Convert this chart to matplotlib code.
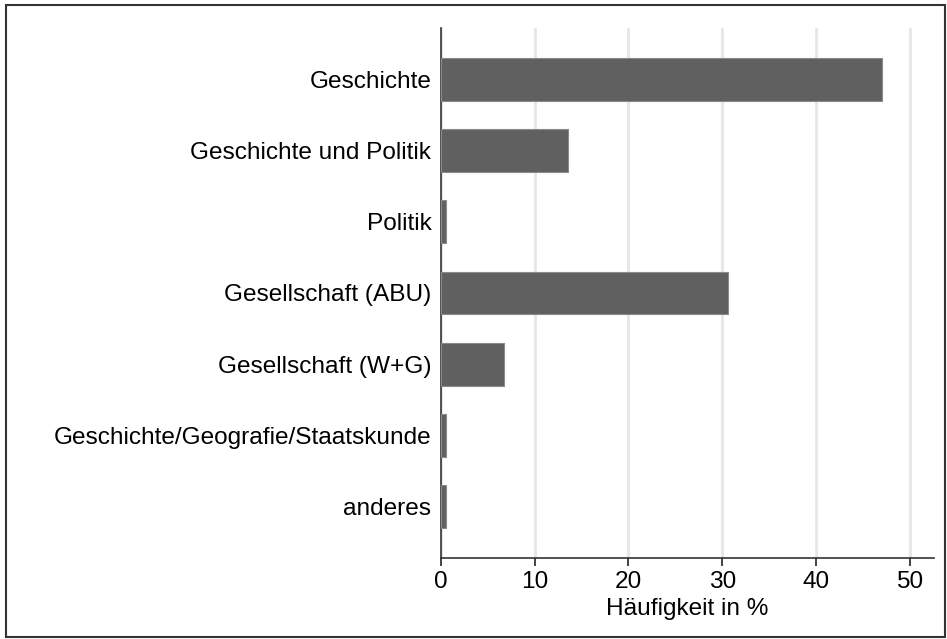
import matplotlib
matplotlib.use("Agg")
import matplotlib.pyplot as plt
from matplotlib.patches import Rectangle

# data
categories = [
    "Geschichte",
    "Geschichte und Politik",
    "Politik",
    "Gesellschaft (ABU)",
    "Gesellschaft (W+G)",
    "Geschichte/Geografie/Staatskunde",
    "anderes",
]
values = [47.0, 13.5, 0.5, 30.6, 6.7, 0.5, 0.5]
xticks = [0, 10, 20, 30, 40, 50]

plt.rcParams["font.family"] = ["Liberation Sans", "DejaVu Sans"]
FS = 17.6

fig = plt.figure(figsize=(9.47, 6.39), dpi=100)
ax = fig.add_axes([441 / 947, 1 - 558 / 639, (934 - 441) / 947, (558 - 28) / 639])

pos = list(range(len(categories)))
ax.barh(pos, values, height=0.6, color="#606060", edgecolor="#8a8a8a",
        linewidth=0.8, zorder=3)

ax.set_yticks(pos)
ax.set_yticklabels(categories, fontsize=FS)
ax.set_ylim(len(categories) - 1 + 0.72, -0.72)
ax.set_xlim(0, 52.6)
ax.set_xticks(xticks)
ax.tick_params(axis="x", labelsize=FS, length=6, width=1.2, color="#222222", pad=3)
ax.tick_params(axis="y", length=0, pad=7)
ax.set_xlabel("Häufigkeit in %", fontsize=FS, labelpad=4)

ax.grid(axis="x", color="#e6e6e6", linewidth=2, zorder=0)
for s in ["top", "right"]:
    ax.spines[s].set_visible(False)
for s in ["left", "bottom"]:
    ax.spines[s].set_color("#333333")
    ax.spines[s].set_linewidth(1.2)

# thin frame around the whole picture
fig.patches.append(Rectangle((6 / 947, 2 / 639), 939 / 947, 632 / 639,
                             transform=fig.transFigure, fill=False,
                             edgecolor="#333333", linewidth=1.5))

fig.savefig("out.png", dpi=100)
